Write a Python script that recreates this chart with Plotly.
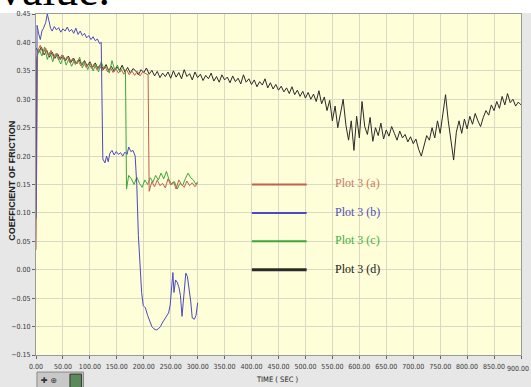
import plotly.graph_objects as go

# ---------------- data ----------------
black_t = list(range(0, 901, 5))
black_v = [
    0.390, 0.382, 0.392, 0.378, 0.386, 0.374, 0.383, 0.372, 0.380, 0.370, 0.377,
    0.368, 0.376, 0.365, 0.372, 0.362, 0.370, 0.360, 0.368, 0.358, 0.366,
    0.356, 0.364, 0.354, 0.362, 0.352, 0.361, 0.350, 0.358, 0.349, 0.357,
    0.351, 0.360, 0.348, 0.356, 0.346, 0.354, 0.350, 0.343, 0.352, 0.347,
    0.355, 0.344, 0.351, 0.341, 0.349, 0.338, 0.346, 0.340, 0.348, 0.337,
    0.350, 0.339, 0.347, 0.336, 0.352, 0.340, 0.345, 0.334, 0.348, 0.338,
    0.344, 0.333, 0.342, 0.336, 0.346, 0.332, 0.340, 0.330, 0.343, 0.334,
    0.339, 0.329, 0.341, 0.331, 0.337, 0.327, 0.343, 0.330, 0.336, 0.326,
    0.334, 0.322, 0.331, 0.325, 0.336, 0.320, 0.329, 0.318, 0.326, 0.316,
    0.323, 0.313, 0.320, 0.310, 0.322, 0.308, 0.316, 0.305, 0.314, 0.302,
    0.312, 0.300, 0.309, 0.296, 0.315, 0.292, 0.304, 0.280, 0.298, 0.262,
    0.288, 0.250, 0.276, 0.300, 0.255, 0.228, 0.262, 0.210, 0.270, 0.232,
    0.296, 0.252, 0.238, 0.268, 0.226, 0.250, 0.236, 0.258, 0.230, 0.246,
    0.235, 0.252, 0.240, 0.228, 0.244, 0.232, 0.238, 0.225, 0.234, 0.222,
    0.230, 0.212, 0.200, 0.218, 0.236, 0.228, 0.250, 0.232, 0.262, 0.240,
    0.275, 0.308, 0.262, 0.230, 0.193, 0.242, 0.262, 0.240, 0.265, 0.248,
    0.270, 0.256, 0.275, 0.262, 0.252, 0.268, 0.280, 0.272, 0.290, 0.280,
    0.296, 0.284, 0.305, 0.290, 0.310, 0.294, 0.300, 0.288, 0.295, 0.290,
]

red_t = [0] + list(range(3, 209, 5)) + list(range(210, 301, 5))
red_v = [
    0.035,
    0.385, 0.395, 0.380, 0.390, 0.376, 0.386, 0.372, 0.381, 0.370, 0.378,
    0.368, 0.375, 0.364, 0.372, 0.361, 0.369, 0.359, 0.366, 0.356, 0.364,
    0.354, 0.362, 0.352, 0.360, 0.350, 0.358, 0.348, 0.356, 0.347, 0.354,
    0.346, 0.353, 0.344, 0.352, 0.343, 0.350, 0.342, 0.349, 0.341, 0.348,
    0.345, 0.343,
    0.138, 0.155, 0.146, 0.158, 0.148, 0.152, 0.144, 0.160, 0.149, 0.155,
    0.142, 0.158, 0.150, 0.145, 0.156, 0.148, 0.153, 0.146, 0.152,
]

green_t = [0] + list(range(1, 167, 5)) + [168] + list(range(172, 298, 5)) + [300]
green_v = [
    0.26,
    0.372, 0.388, 0.376, 0.392, 0.370, 0.383, 0.366, 0.380, 0.372, 0.362,
    0.376, 0.360, 0.371, 0.358, 0.368, 0.362, 0.374, 0.355, 0.366, 0.352,
    0.364, 0.350, 0.362, 0.348, 0.366, 0.353, 0.358, 0.346, 0.368, 0.352,
    0.360, 0.348, 0.356, 0.350,
    0.142,
    0.166, 0.160, 0.150, 0.163, 0.152, 0.145, 0.158, 0.150, 0.162, 0.154,
    0.166, 0.158, 0.170, 0.160, 0.173, 0.158, 0.150, 0.155, 0.142, 0.152,
    0.148, 0.160, 0.170, 0.162, 0.158, 0.150,
    0.155,
]

blue_t = [0, 2, 5, 8, 11, 14, 18, 21, 24, 27, 30, 34, 38, 42, 46, 50, 54, 58, 62,
          66, 70, 74, 78, 82, 86, 90, 94, 98, 102, 106, 110, 114, 118, 121, 124,
          128, 131, 134, 137, 141, 145, 149, 153, 157, 161, 165, 169, 172, 176,
          180, 184, 187, 190, 193, 196, 199, 203, 207, 211, 215, 219, 223, 227,
          231, 234, 237, 240, 243, 246, 249, 252, 254, 256, 259, 262, 265, 268,
          271, 273, 276, 278, 281, 284, 287, 290, 294, 297, 300]
blue_v = [0.090, 0.430, 0.415, 0.405, 0.420, 0.425, 0.435, 0.450, 0.438, 0.425,
          0.420, 0.428, 0.422, 0.426, 0.418, 0.424, 0.420, 0.427, 0.419, 0.423,
          0.416, 0.425, 0.414, 0.420, 0.412, 0.416, 0.408, 0.412, 0.405, 0.410,
          0.403, 0.406, 0.398, 0.400, 0.195, 0.188, 0.200, 0.190, 0.205, 0.210,
          0.202, 0.208, 0.203, 0.206, 0.200, 0.207, 0.203, 0.216, 0.208, 0.210,
          0.200, 0.150, 0.060, 0.000, -0.040, -0.063, -0.067, -0.080, -0.090,
          -0.100, -0.104, -0.106, -0.104, -0.100, -0.094, -0.090, -0.085, -0.082,
          -0.076, -0.062, -0.030, -0.005, -0.040, -0.018, -0.022, -0.030, -0.045,
          -0.082, -0.060, -0.020, -0.006, -0.012, -0.030, -0.055, -0.085, -0.087,
          -0.080, -0.058]

legend_labels = ["Plot 3 (a)", "Plot 3 (b)", "Plot 3 (c)", "Plot 3 (d)"]
x_ticks = list(range(0, 901, 50))
x_ticktext = ["%.2f" % v for v in x_ticks]
last_tick_label = x_ticktext[-1]
x_ticktext[-1] = ""  # drawn separately below so it stays inside the page

# ---------------- styles ----------------
RED, BLUE, GREEN, BLACK = "#c0604e", "#4a4ac4", "#3aa83a", "#2a2a2a"
LEG_TXT = ["#cc7a66", "#5050c0", "#44b044", "#222222"]

fig = go.Figure()
fig.add_trace(go.Scatter(x=black_t, y=black_v, mode="lines", line=dict(color=BLACK, width=1), showlegend=False))
fig.add_trace(go.Scatter(x=green_t, y=green_v, mode="lines", line=dict(color=GREEN, width=1), showlegend=False))
fig.add_trace(go.Scatter(x=red_t, y=red_v, mode="lines", line=dict(color=RED, width=1), showlegend=False))
fig.add_trace(go.Scatter(x=blue_t, y=blue_v, mode="lines", line=dict(color=BLUE, width=1), showlegend=False))

tickfont = dict(family="DejaVu Sans Condensed, Liberation Sans Narrow, Liberation Sans", size=7, color="#3a3a3a")

shapes = []
annotations = []
# custom legend
leg_y = [0.5, 0.4167, 0.3333, 0.25]
leg_col = [RED, BLUE, GREEN, BLACK]
for i in range(4):
    shapes.append(dict(type="line", xref="paper", yref="paper", x0=0.445, x1=0.558,
                       y0=leg_y[i], y1=leg_y[i],
                       line=dict(color=leg_col[i], width=3 if i == 3 else 2)))
    annotations.append(dict(xref="paper", yref="paper", x=0.612, y=leg_y[i] + 0.003,
                            xanchor="left", yanchor="middle", showarrow=False,
                            text=legend_labels[i],
                            font=dict(family="Liberation Serif, Times New Roman", size=12, color=LEG_TXT[i])))

# last x tick label
annotations.append(dict(xref="paper", yref="paper", x=1.0, xshift=-3, y=-0.041, xanchor="center",
                        yanchor="middle", showarrow=False, text=last_tick_label, font=tickfont))

# white strip at top (page) and clipped document text
shapes.append(dict(type="rect", xref="paper", yref="paper", x0=-0.2, x1=1.1, y0=1.003, y1=1.2,
                   fillcolor="white", line=dict(width=0), layer="below"))
annotations.append(dict(xref="paper", yref="paper", x=-0.080, y=0.991, xanchor="left", yanchor="bottom",
                        showarrow=False, text="value.",
                        font=dict(family="Liberation Serif, Times New Roman", size=46, color="#000000")))

# toolbar icons bottom-left
shapes.append(dict(type="rect", xref="paper", yref="paper", x0=0.002, x1=0.098, y0=-0.05, y1=-0.097,
                   fillcolor="#c8c8c8", line=dict(color="#8a8a8a", width=1)))
shapes.append(dict(type="rect", xref="paper", yref="paper", x0=0.07, x1=0.094, y0=-0.056, y1=-0.097,
                   fillcolor="#5a8a5a", line=dict(color="#333", width=1)))
annotations.append(dict(xref="paper", yref="paper", x=0.006, y=-0.075, xanchor="left", yanchor="middle",
                        showarrow=False, text="✚ ⊕",
                        font=dict(family="DejaVu Sans", size=8, color="#333")))

# axis titles
annotations.append(dict(xref="paper", yref="paper", x=-0.05, y=0.51, xanchor="center", yanchor="middle",
                        showarrow=False, textangle=-90, text="<b>COEFFICIENT OF FRICTION</b>",
                        font=dict(family="Liberation Sans, DejaVu Sans", size=9, color="#222")))
annotations.append(dict(xref="paper", yref="paper", x=0.497, y=-0.073, xanchor="center", yanchor="middle",
                        showarrow=False, text="TIME ( SEC )",
                        font=dict(family="DejaVu Sans Condensed, Liberation Sans", size=7.5, color="#222")))

fig.update_layout(
    width=531, height=387,
    margin=dict(l=36, r=10, t=14, b=32, autoexpand=False),
    paper_bgcolor="#e7e7e7",
    plot_bgcolor="#fefed8",
    shapes=shapes,
    annotations=annotations,
    showlegend=False,
    xaxis=dict(range=[0, 900], tickvals=x_ticks, ticktext=x_ticktext, tickfont=tickfont,
               tickangle=0, automargin=False, ticklabeloverflow="allow", ticklabelstandoff=2,
               showgrid=True, gridcolor="#d9d9c4", gridwidth=1, zeroline=False,
               ticks="outside", ticklen=3, tickcolor="#666", showline=True, linecolor="#9a9a9a",
               mirror=True, fixedrange=True),
    yaxis=dict(range=[-0.15, 0.45], dtick=0.05, tick0=0, tickformat=".2f", tickfont=tickfont,
               automargin=False, ticklabeloverflow="allow",
               showgrid=True, gridcolor="#d9d9c4", gridwidth=1, zeroline=False,
               ticks="outside", ticklen=3, tickcolor="#666", showline=True, linecolor="#9a9a9a",
               mirror=True, fixedrange=True),
)

fig.write_html("out.html", config={"displayModeBar": False},
               post_script="document.body.style.margin='0px';document.body.style.overflow='hidden';")
